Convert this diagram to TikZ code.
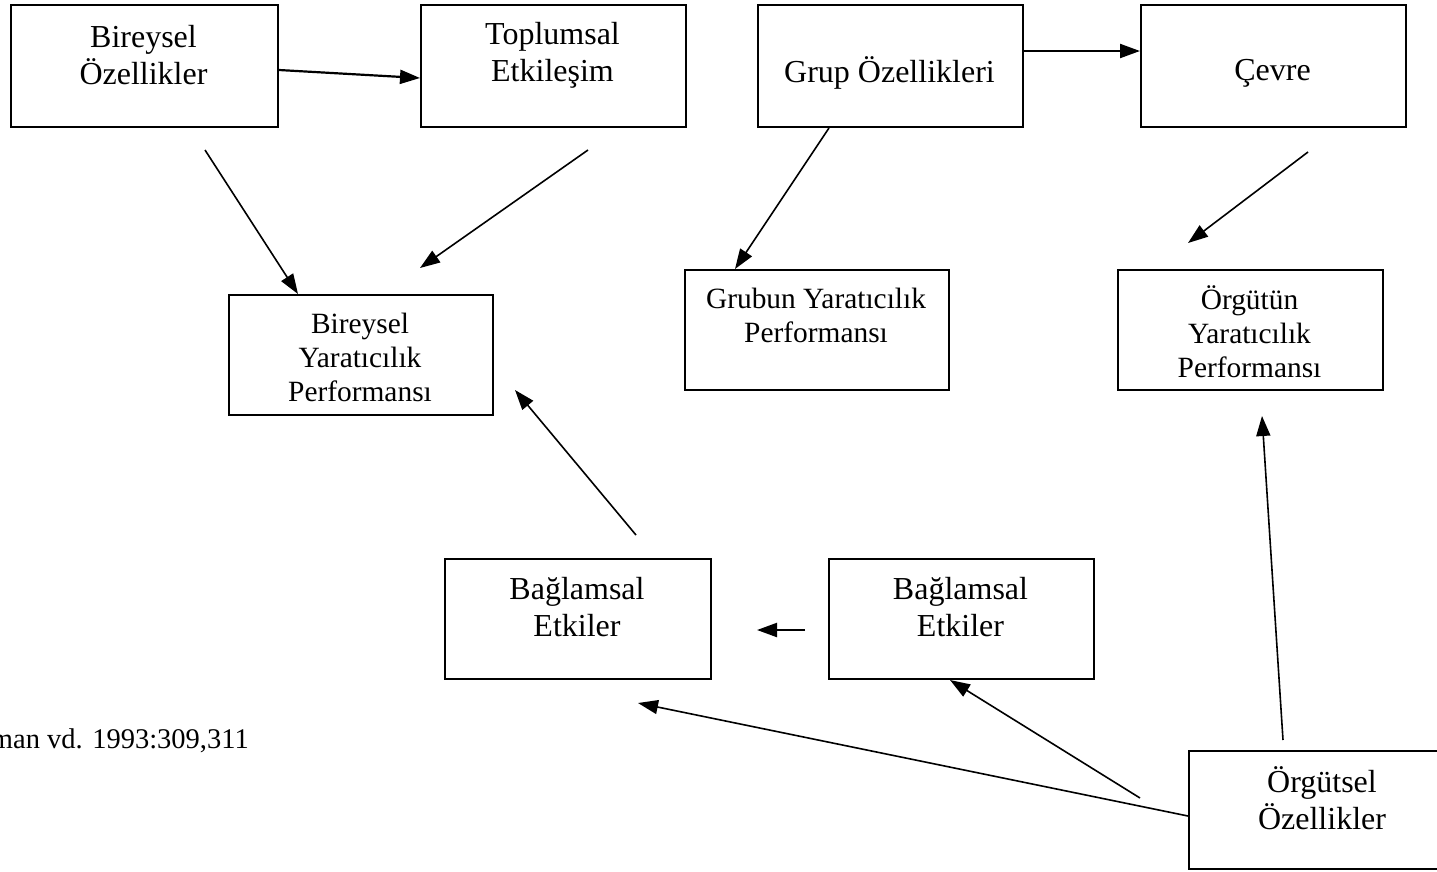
\documentclass[tikz,border=0pt]{standalone}
\usepackage{fontspec}
\setmainfont{Liberation Serif}
\usetikzlibrary{arrows.meta}
\begin{document}
\begin{tikzpicture}[x=1pt,y=-1pt,
  box/.style={draw, line width=2pt, rectangle, anchor=north west, inner sep=0pt},
  big/.style={font=\fontsize{32}{37}\selectfont, align=center, inner sep=0pt},
  small/.style={font=\fontsize{29.4}{34}\selectfont, align=center, inner sep=0pt},
  arr/.style={line width=1.6pt, -{Triangle[length=20pt,width=14pt]}},
  harr/.style={line width=2.2pt, -{Triangle[length=20pt,width=14pt]}},
]
\clip (0,0) rectangle (1437,871);
\fill[white] (0,0) rectangle (1437,871);

% top row
\node[box, minimum width=267pt, minimum height=122pt] (bo) at (10,4) {};
\node[big] (boT) at (143.5,55) {Bireysel\\Özellikler};
\node[box, minimum width=265pt, minimum height=122pt] (te) at (420,4) {};
\node[big] (teT) at (552.5,55) {Toplumsal\\Etkileşim};
\node[box, minimum width=265pt, minimum height=122pt] (gr) at (757,4) {};
\node[big] (grT) at (889.5,73) {Grup Özellikleri};
\node[box, minimum width=265pt, minimum height=122pt] (cv) at (1140,4) {};
\node[big] (cvT) at (1272.5,73) {Çevre};

% performance boxes
\node[box, minimum width=264pt, minimum height=120pt] (bp) at (228,294) {};
\node[small] (bpT) at (360,357) {Bireysel\\Yaratıcılık\\Performansı};
\node[box, minimum width=264pt, minimum height=120pt] (gp) at (684,269) {};
\node[small] (gpT) at (816,315) {Grubun Yaratıcılık\\Performansı};
\node[box, minimum width=265pt, minimum height=120pt] (op) at (1117,269) {};
\node[small] (opT) at (1249.5,332) {Örgütün\\Yaratıcılık\\Performansı};

% contextual influences
\node[box, minimum width=266pt, minimum height=120pt] (bl) at (444,558) {};
\node[big] (blT) at (577,607) {Bağlamsal\\Etkiler};
\node[box, minimum width=265pt, minimum height=120pt] (br) at (828,558) {};
\node[big] (brT) at (960.5,607) {Bağlamsal\\Etkiler};

% organisational characteristics
\node[box, minimum width=268pt, minimum height=118pt] (oz) at (1188,750) {};
\node[big] (ozT) at (1322,798) {Örgütsel\\Özellikler};

% source line
\node[anchor=east, font=\fontsize{28.5}{33}\selectfont, inner sep=0pt] (src) at (249,741) {man vd. 1993:309,311};

% free connector ends
\coordinate (s3) at (205,150);
\coordinate (s4) at (588,150);
\coordinate (e4) at (420,268);
\coordinate (s6) at (1308,152);
\coordinate (e6) at (1188,243);
\coordinate (s7) at (636,535);
\coordinate (e7) at (515,390);
\coordinate (s8) at (805,630);
\coordinate (e8) at (757,630);
\coordinate (s9) at (1140,798);
\coordinate (e10) at (638,703);
\coordinate (s11) at (1283,740);
\coordinate (e11) at (1262,416);

% connectors
\draw[harr] ([yshift=-4pt]bo.east) -- ([yshift=-12pt]te.west);
\draw[harr] ([yshift=15pt]gr.east) -- ([yshift=15pt]cv.west);
\draw[arr] (s3) -- ([xshift=70pt]bp.north west);
\draw[arr] (s4) -- (e4);
\draw[arr] ([xshift=-61.5pt]gr.south) -- ([xshift=51pt]gp.north west);
\draw[arr] (s6) -- (e6);
\draw[arr] (s7) -- (e7);
\draw[harr] (s8) -- (e8);
\draw[arr] (s9) -- ([xshift=122pt]br.south west);
\draw[arr] ([yshift=-6pt]oz.west) -- (e10);
\draw[arr] (s11) -- (e11);
\end{tikzpicture}
\end{document}
